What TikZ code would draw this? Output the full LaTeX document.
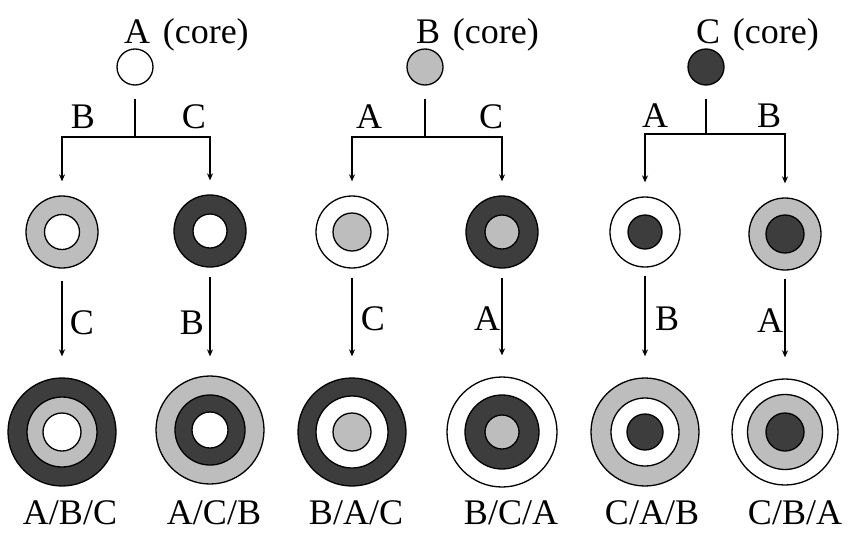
\documentclass[tikz,border=0pt]{standalone}
\usepackage{fontspec}
\setmainfont{Liberation Serif}
\usetikzlibrary{arrows.meta}
\definecolor{fillB}{gray}{0.74}
\definecolor{fillC}{gray}{0.24}
\tikzset{
  ring/.style={circle, draw=black, line width=1.3pt, inner sep=0pt, minimum size=#1},
  la/.style={fill=white},
  lb/.style={fill=fillB},
  lc/.style={fill=fillC},
  conn/.style={line width=1.2pt},
  arr/.style={conn, -{Stealth[length=7pt,width=6pt]}},
  lbl/.style={font=\fontsize{36}{40}\selectfont, inner sep=0pt},
}
\begin{document}
\begin{tikzpicture}[x=1pt,y=-1pt]
\useasboundingbox (0,0) rectangle (848,533);

% ---------- titles and cores ----------
\node[lbl, anchor=base west] (tA) at (124,43) {A\hspace{0.35em}(core)};
\node[lbl, anchor=base west] (tB) at (416,43) {B\hspace{0.35em}(core)};
\node[lbl, anchor=base west] (tC) at (696,43) {C\hspace{0.35em}(core)};
\node[ring=36pt, la] (coreA) at (135,67) {};
\node[ring=36pt, lb] (coreB) at (425,67) {};
\node[ring=36pt, lc] (coreC) at (706,67) {};

% ---------- middle rings ----------
\node[ring=72pt, lb] (mAB) at (62,232) {};
\node[ring=35pt, la] (mABi) at (62,232) {};
\node[ring=72pt, lc] (mAC) at (210,231) {};
\node[ring=34pt, la] (mACi) at (210,231) {};
\node[ring=72pt, la] (mBA) at (352,232) {};
\node[ring=38pt, lb] (mBAi) at (352,232) {};
\node[ring=72pt, lc] (mBC) at (502,232) {};
\node[ring=34pt, lb] (mBCi) at (502,232) {};
\node[ring=70pt, la] (mCA) at (645,232) {};
\node[ring=34pt, lc] (mCAi) at (645,232) {};
\node[ring=72pt, lb] (mCB) at (785,234) {};
\node[ring=38pt, lc] (mCBi) at (785,234) {};

% ---------- bottom rings ----------
\node[ring=108pt, lc] (bABC) at (62,432) {};
\node[ring=70pt, lb] (bABCm) at (62,432) {};
\node[ring=38pt, la] (bABCi) at (62,432) {};
\node[ring=108pt, lb] (bACB) at (210,430) {};
\node[ring=70pt, lc] (bACBm) at (210,430) {};
\node[ring=36pt, la] (bACBi) at (210,430) {};
\node[ring=108pt, lc] (bBAC) at (352,432) {};
\node[ring=72pt, la] (bBACm) at (352,432) {};
\node[ring=38pt, lb] (bBACi) at (352,432) {};
\node[ring=110pt, la] (bBCA) at (502,432) {};
\node[ring=74pt, lc] (bBCAm) at (502,432) {};
\node[ring=34pt, lb] (bBCAi) at (502,432) {};
\node[ring=108pt, lb] (bCAB) at (645,432) {};
\node[ring=68pt, la] (bCABm) at (645,432) {};
\node[ring=36pt, lc] (bCABi) at (645,432) {};
\node[ring=106pt, la] (bCBA) at (785,432) {};
\node[ring=75pt, lb] (bCBAm) at (785,432) {};
\node[ring=38pt, lc] (bCBAi) at (785,432) {};

% ---------- tree connectors ----------
\coordinate (jA) at (135,137);
\coordinate (jB) at (425,137);
\coordinate (jC) at (706,134);
\draw[conn, shorten <=13pt] (coreA) -- (jA);
\draw[conn, shorten <=13pt] (coreB) -- (jB);
\draw[conn, shorten <=13pt] (coreC) -- (jC);
\draw[arr, shorten >=14pt] (jA) -| (mAB);
\draw[arr, shorten >=14pt] (jA) -| (mAC);
\draw[arr, shorten >=14pt] (jB) -| (mBA);
\draw[arr, shorten >=14pt] (jB) -| (mBC);
\draw[arr, shorten >=14pt] (jC) -| (mCA);
\draw[arr, shorten >=14pt] (jC) -| (mCB);

\draw[arr, shorten <=12pt, shorten >=21pt] (mAB) -- (bABC);
\draw[arr, shorten <=9pt, shorten >=19pt] (mAC) -- (bACB);
\draw[arr, shorten <=9pt, shorten >=21pt] (mBA) -- (bBAC);
\draw[arr, shorten <=9pt, shorten >=21pt] (mBC) -- (bBCA);
\draw[arr, shorten <=8pt, shorten >=21pt] (mCA) -- (bCAB);
\draw[arr, shorten <=8pt, shorten >=21pt] (mCB) -- (bCBA);

% ---------- branch labels ----------
\node[lbl, anchor=base] (lA1) at (83,128) {B};
\node[lbl, anchor=base] (lA2) at (194,128) {C};
\node[lbl, anchor=base] (lB1) at (369,128) {A};
\node[lbl, anchor=base] (lB2) at (491,128) {C};
\node[lbl, anchor=base] (lC1) at (655,127) {A};
\node[lbl, anchor=base] (lC2) at (769,127) {B};

\node[lbl, anchor=base] (lA3) at (82,334) {C};
\node[lbl, anchor=base] (lA4) at (192,334) {B};
\node[lbl, anchor=base] (lB3) at (373,330) {C};
\node[lbl, anchor=base] (lB4) at (487,330) {A};
\node[lbl, anchor=base] (lC3) at (667,330) {B};
\node[lbl, anchor=base] (lC4) at (770,332) {A};

% ---------- result labels ----------
\node[lbl, anchor=base] (rABC) at (70,524) {A/B/C};
\node[lbl, anchor=base] (rACB) at (214,524) {A/C/B};
\node[lbl, anchor=base] (rBAC) at (356,524) {B/A/C};
\node[lbl, anchor=base] (rBCA) at (511,524) {B/C/A};
\node[lbl, anchor=base] (rCAB) at (652,524) {C/A/B};
\node[lbl, anchor=base] (rCBA) at (795,524) {C/B/A};
\end{tikzpicture}
\end{document}
